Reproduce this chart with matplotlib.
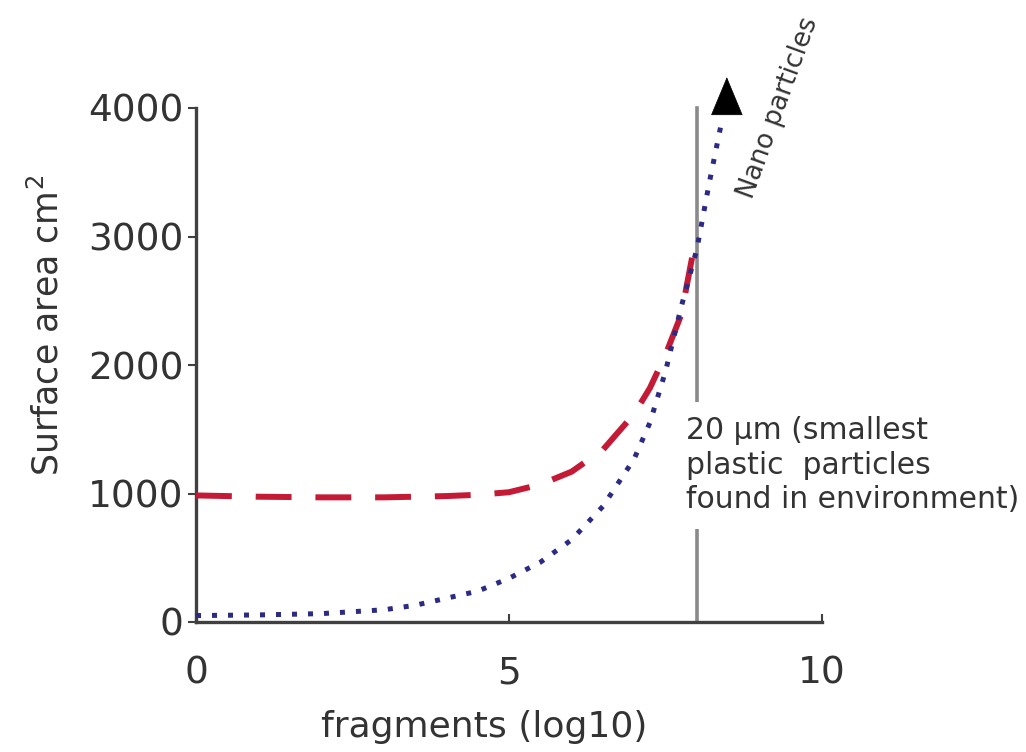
import matplotlib
matplotlib.use("Agg")
import matplotlib.pyplot as plt

# ---- data ----
x_ticks = [0, 5, 10]
y_ticks = [0, 1000, 2000, 3000, 4000]

red_x = [0, 1, 2, 3, 4, 4.5, 5, 5.5, 6, 6.5, 7, 7.25, 7.5, 7.75, 7.95]
red_y = [985, 975, 970, 970, 980, 990, 1010, 1070, 1170, 1340, 1620, 1820, 2080, 2390, 2900]

blue_x = [0, 1, 2, 3, 3.5, 4, 4.5, 5, 5.5, 6, 6.5, 7, 7.25, 7.5, 7.75, 8.0, 8.2, 8.4]
blue_y = [50, 55, 65, 95, 130, 185, 240, 340, 465, 640, 900, 1270, 1550, 1950, 2450, 2900, 3420, 3900]

arrow_tip = (8.48, 4240)
arrow_base = (8.48, 3960)
limit_x = 8.0
limit_top = 4000

x_label = "fragments (log10)"
y_label = "Surface area cm$^2$"
note_text = "20 µm (smallest\nplastic  particles\nfound in environment)"
nano_text = "Nano particles"

W, H = 1026, 752
fig = plt.figure(figsize=(W / 100, H / 100), dpi=100)
ax = fig.add_axes([196 / W, 1 - 622 / H, (822 - 196) / W, (622 - 108) / H])
ax.set_xlim(0, 10)
ax.set_ylim(0, 4000)

txt_col = "#333333"
spine_col = "#404040"

# vertical limit line
ax.plot([limit_x, limit_x], [0, limit_top], color="#8a8a8a", lw=2.6, zorder=1, clip_on=False)

# red dashed
ax.plot(red_x, red_y, color="#c41a35", lw=4.3, linestyle=(0, (6, 4)),
        dash_capstyle="butt", zorder=3, clip_on=False)
# blue dotted
ax.plot(blue_x, blue_y, color="#2b2b85", lw=3.6, linestyle=(0, (1, 2.2)),
        dash_capstyle="butt", zorder=4, clip_on=False)

ax.annotate("", xy=arrow_tip, xytext=arrow_base,
            arrowprops=dict(arrowstyle="-|>,head_length=1.2,head_width=0.5",
                            color="black", lw=0.5, mutation_scale=22,
                            shrinkA=0, shrinkB=0),
            annotation_clip=False, zorder=5)

for s in ["top", "right"]:
    ax.spines[s].set_visible(False)
for s in ["left", "bottom"]:
    ax.spines[s].set_color(spine_col)
    ax.spines[s].set_linewidth(2.4)

ax.set_xticks(x_ticks)
ax.set_yticks(y_ticks)
ax.set_xticklabels([str(v) for v in x_ticks])
ax.set_yticklabels([str(v) for v in y_ticks])
ax.tick_params(axis="y", direction="out", length=6, width=1.5, color=spine_col,
               labelsize=27, labelcolor=txt_col, pad=3)
ax.tick_params(axis="x", direction="in", length=6, width=1.5, color=spine_col,
               labelsize=27, labelcolor=txt_col, pad=24)

fig.text(484 / W, 1 - 727 / H, x_label, ha="center", va="center",
         fontsize=26, color=txt_col)
fig.text(47 / W, 1 - 325 / H, y_label, ha="center", va="center",
         rotation=90, fontsize=25, color=txt_col)

fig.text(686 / W, 1 - 416 / H, note_text, ha="left", va="top",
         fontsize=21.5, color=txt_col, linespacing=1.25,
         bbox=dict(facecolor="white", edgecolor="none", pad=10))

fig.text(778 / W, 1 - 108 / H, nano_text, ha="center", va="center",
         rotation=70, fontsize=19, color=txt_col, rotation_mode="anchor")

fig.savefig("out.png", dpi=100)
